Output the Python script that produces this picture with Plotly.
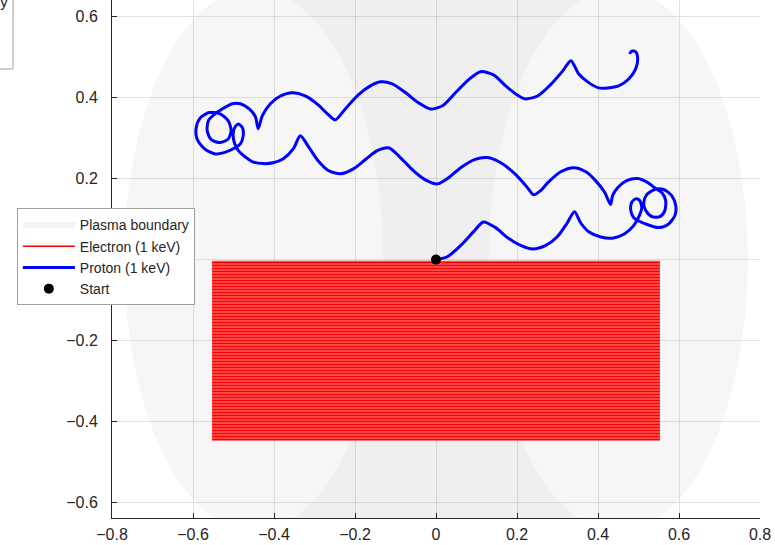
import plotly.graph_objects as go

# ---------------- data ----------------
x_ticks = [-0.8, -0.6, -0.4, -0.2, 0, 0.2, 0.4, 0.6, 0.8]
y_ticks = [-0.6, -0.4, -0.2, 0, 0.2, 0.4, 0.6]

# plasma boundary: two lobes (left / right cross-section) and the region between
lobe_left_x = [-0.77, -0.13]
lobe_right_x = [0.13, 0.77]
lobe_y = [-0.67, 0.67]
core_x = [-0.45, 0.45]
core_y = [-0.70, 0.70]

# electron (1 keV): densely filled band, outline corners
electron_x = [-0.553, 0.553, 0.553, -0.553, -0.553]
electron_y = [-0.003, -0.003, -0.447, -0.447, -0.003]

# proton (1 keV) trajectory
proton_x = [
    0.000, 0.028, 0.061, 0.093, 0.117, 0.147, 0.177, 0.209, 0.239, 0.271,
    0.300, 0.323, 0.342, 0.357, 0.377, 0.407, 0.436, 0.466, 0.488,
    0.501, 0.508, 0.503, 0.493, 0.483, 0.481, 0.488, 0.503, 0.523, 0.548,
    0.572, 0.590, 0.592, 0.582, 0.562, 0.540, 0.520, 0.513, 0.518, 0.533,
    0.553, 0.565, 0.567, 0.558, 0.543, 0.523, 0.498, 0.471, 0.449, 0.436,
    0.431,
    0.417, 0.394, 0.370, 0.340, 0.308, 0.278, 0.258, 0.241, 0.224, 0.197,
    0.160, 0.127, 0.095, 0.061, 0.031, 0.004, -0.026, -0.056, -0.088, -0.117,
    -0.145, -0.172, -0.204, -0.236, -0.266, -0.291, -0.315, -0.335, -0.352,
    -0.377, -0.402, -0.427, -0.454, -0.469,
    -0.488, -0.498, -0.501, -0.496, -0.488, -0.478, -0.476, -0.483, -0.496,
    -0.518, -0.545, -0.572, -0.590, -0.592, -0.582, -0.560, -0.533, -0.513,
    -0.506, -0.513, -0.533, -0.555, -0.565, -0.562, -0.548, -0.528, -0.503,
    -0.483, -0.461, -0.446, -0.439,
    -0.429, -0.409, -0.384, -0.355, -0.323, -0.291, -0.266, -0.249, -0.224,
    -0.192, -0.162, -0.137, -0.108, -0.075, -0.043, -0.014, 0.016, 0.048,
    0.080, 0.110, 0.142, 0.172, 0.197, 0.219, 0.251, 0.283, 0.313, 0.333,
    0.352, 0.377, 0.402, 0.424, 0.451, 0.476, 0.493, 0.498, 0.493, 0.483,
    0.478,
]
proton_y = [
    0.000, 0.007, 0.035, 0.069, 0.093, 0.079, 0.054, 0.035, 0.026, 0.035,
    0.057, 0.089, 0.118, 0.091, 0.069, 0.056, 0.053, 0.064, 0.084,
    0.106, 0.128, 0.146, 0.150, 0.141, 0.121, 0.104, 0.094, 0.086, 0.079,
    0.086, 0.109, 0.133, 0.158, 0.173, 0.173, 0.160, 0.141, 0.121, 0.106,
    0.106, 0.121, 0.146, 0.165, 0.175, 0.190, 0.200, 0.195, 0.178, 0.158,
    0.136,
    0.165, 0.195, 0.217, 0.227, 0.217, 0.192, 0.170, 0.160, 0.180, 0.210,
    0.239, 0.252, 0.247, 0.227, 0.202, 0.187, 0.197, 0.220, 0.252, 0.276,
    0.269, 0.249, 0.224, 0.212, 0.220, 0.244, 0.279, 0.306, 0.274,
    0.249, 0.239, 0.237, 0.242, 0.252,
    0.269, 0.289, 0.311, 0.328, 0.335, 0.326, 0.306, 0.286, 0.276,
    0.266, 0.261, 0.274, 0.298, 0.326, 0.350, 0.363, 0.360, 0.343,
    0.318, 0.298, 0.289, 0.296, 0.318, 0.343, 0.358, 0.372, 0.385,
    0.385, 0.372, 0.353, 0.323,
    0.355, 0.385, 0.404, 0.412, 0.404, 0.382, 0.358, 0.345, 0.372,
    0.407, 0.429, 0.439, 0.434, 0.412, 0.387, 0.372, 0.380, 0.412,
    0.444, 0.464, 0.456, 0.429, 0.409, 0.397, 0.404, 0.432, 0.466, 0.491,
    0.459, 0.437, 0.424, 0.424, 0.429, 0.446, 0.471, 0.496, 0.513, 0.515,
    0.508,
]

start_x = [0.0]
start_y = [0.0]

# ---------------- figure ----------------
INK = "#262626"
fig = go.Figure()

# plasma boundary legend entry (fill swatch)
fig.add_trace(go.Scatter(
    x=[None], y=[None], mode="none", fill="toself",
    fillcolor="#f3f3f3", name="Plasma boundary"))

# electron band
fig.add_trace(go.Scatter(
    x=electron_x, y=electron_y, mode="none", fill="toself",
    fillcolor="#ffa8a8",
    fillpattern=dict(shape="-", fgcolor="#ff0000", fgopacity=1,
                     bgcolor="#ffa8a8", size=3, solidity=0.72),
    showlegend=False, hoverinfo="skip"))
fig.add_trace(go.Scatter(
    x=[None], y=[None], mode="lines",
    line=dict(color="#ff0000", width=1.5), name="Electron (1 keV)"))

# proton trajectory
fig.add_trace(go.Scatter(
    x=proton_x, y=proton_y, mode="lines",
    line=dict(color="#0000ff", width=3, shape="spline", smoothing=0.75),
    name="Proton (1 keV)"))

# start point
fig.add_trace(go.Scatter(
    x=start_x, y=start_y, mode="markers",
    marker=dict(color="black", size=10), name="Start"))

shapes = [
    dict(type="rect", xref="x", yref="y", x0=core_x[0], x1=core_x[1],
         y0=core_y[0], y1=core_y[1], fillcolor="#efefef",
         line=dict(width=0), layer="below"),
    dict(type="circle", xref="x", yref="y", x0=lobe_left_x[0], x1=lobe_left_x[1],
         y0=lobe_y[0], y1=lobe_y[1], fillcolor="#f6f6f6",
         line=dict(width=0), layer="below"),
    dict(type="circle", xref="x", yref="y", x0=lobe_right_x[0], x1=lobe_right_x[1],
         y0=lobe_y[0], y1=lobe_y[1], fillcolor="#f6f6f6",
         line=dict(width=0), layer="below"),
    # partially visible legend box at the top-left corner
    dict(type="rect", xref="paper", yref="paper", x0=-0.6, x1=-0.1528,
         y0=0.8668, y1=1.2, fillcolor="white",
         line=dict(color="#a0a0a0", width=1), layer="above"),
]

fig.update_layout(
    width=775, height=545,
    margin=dict(l=112, r=15, t=0, b=27, autoexpand=False),
    paper_bgcolor="white", plot_bgcolor="white",
    font=dict(family="Liberation Sans, Arial, sans-serif", color=INK),
    shapes=shapes,
    annotations=[dict(text="Plasma boundary", xref="paper", yref="paper",
                      x=-0.158, y=0.998, xanchor="right", yanchor="middle",
                      showarrow=False, font=dict(size=15, color=INK))],
    legend=dict(x=-0.1468, y=0.504, xanchor="left", yanchor="middle",
                bgcolor="white", bordercolor="#a0a0a0", borderwidth=1,
                font=dict(size=14, color=INK), itemwidth=52,
                traceorder="normal"),
    showlegend=True,
)

fig.update_xaxes(
    range=[-0.8, 0.8], tickvals=x_ticks, showgrid=True,
    gridcolor="rgba(38,38,38,0.13)", gridwidth=1, zeroline=False,
    showline=True, linecolor=INK, linewidth=1,
    ticks="inside", ticklen=5, tickcolor=INK, tickfont=dict(size=16),
    ticklabelstandoff=2,
)
fig.update_yaxes(
    range=[-0.638, 0.641], tickvals=y_ticks, showgrid=True,
    gridcolor="rgba(38,38,38,0.13)", gridwidth=1, zeroline=False,
    showline=True, linecolor=INK, linewidth=1,
    ticks="inside", ticklen=5, tickcolor=INK, tickfont=dict(size=16),
    ticklabelstandoff=10,
)

fig.write_html("out.html",
               config={"displayModeBar": False},
               post_script="document.body.style.margin='0px';"
                           "document.body.style.overflow='hidden';")
